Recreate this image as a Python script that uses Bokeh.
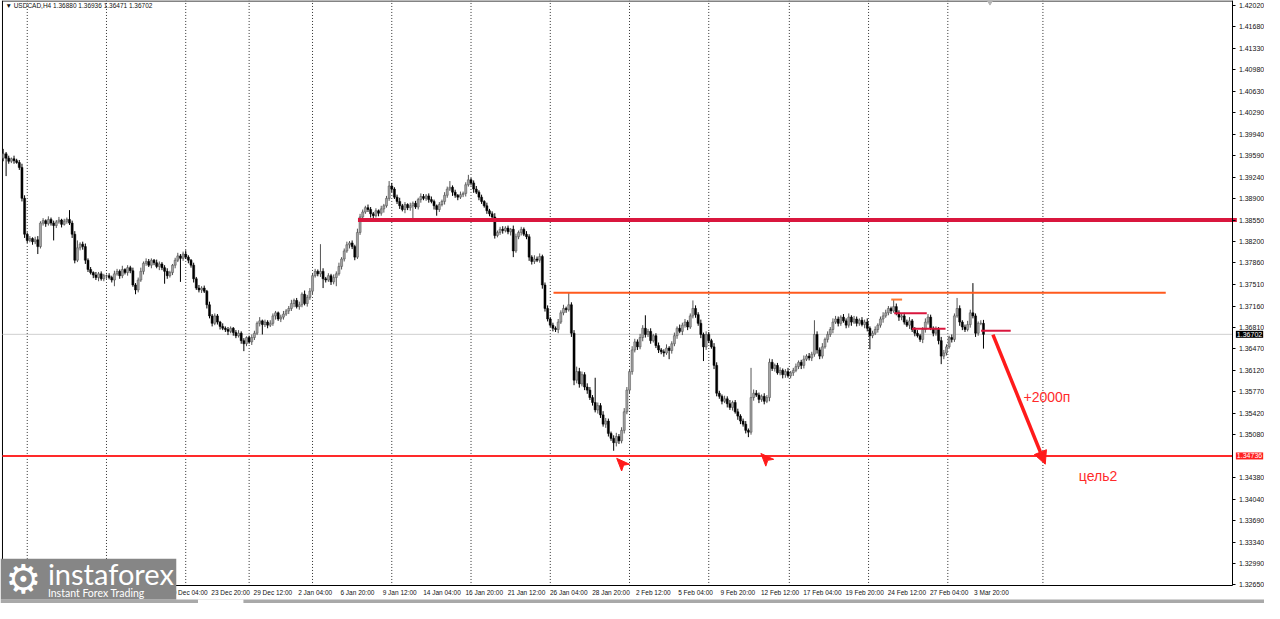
from bokeh.plotting import figure
from bokeh.models import (Range1d, FixedTicker, PrintfTickFormatter, Label,
                          Arrow, NormalHead, ColumnDataSource, BoxAnnotation)
from bokeh.embed import file_html
from bokeh.resources import INLINE

# ---------------- data (USDCAD H4) ----------------
first_open = 1.3955
closes = [
    1.3962, 1.3955, 1.3950, 1.3954, 1.3951, 1.3948, 1.3940, 1.3890, 1.3832, 1.3822,
    1.3825, 1.3820, 1.3823, 1.3812, 1.3850, 1.3854, 1.3849, 1.3856, 1.3850, 1.3846,
    1.3852, 1.3855, 1.3848, 1.3853, 1.3856, 1.3850, 1.3832, 1.3790, 1.3810, 1.3816,
    1.3812, 1.3790, 1.3775, 1.3770, 1.3766, 1.3762, 1.3768, 1.3760, 1.3765, 1.3765,
    1.3762, 1.3758, 1.3768, 1.3772, 1.3765, 1.3775, 1.3770, 1.3778, 1.3773, 1.3750,
    1.3742, 1.3758, 1.3772, 1.3785, 1.3788, 1.3782, 1.3790, 1.3786, 1.3780, 1.3784,
    1.3778, 1.3772, 1.3765, 1.3770, 1.3782, 1.3790, 1.3797, 1.3793, 1.3800, 1.3795,
    1.3790, 1.3782, 1.3760, 1.3745, 1.3742, 1.3745, 1.3740, 1.3718, 1.3700, 1.3688,
    1.3700, 1.3690, 1.3683, 1.3680, 1.3678, 1.3675, 1.3680, 1.3673, 1.3668, 1.3672,
    1.3660, 1.3655, 1.3665, 1.3658, 1.3665, 1.3672, 1.3688, 1.3692, 1.3686, 1.3690,
    1.3685, 1.3688, 1.3700, 1.3705, 1.3695, 1.3698, 1.3703, 1.3708, 1.3712, 1.3720,
    1.3725, 1.3715, 1.3718, 1.3735, 1.3720, 1.3730, 1.3740, 1.3765, 1.3772, 1.3768,
    1.3772, 1.3760, 1.3758, 1.3765, 1.3755, 1.3762, 1.3768, 1.3780, 1.3792, 1.3805,
    1.3815, 1.3818, 1.3812, 1.3795, 1.3835, 1.3860, 1.3868, 1.3875, 1.3872, 1.3865,
    1.3862, 1.3870, 1.3866, 1.3873, 1.3878, 1.3890, 1.3910, 1.3905, 1.3892, 1.3885,
    1.3878, 1.3872, 1.3880, 1.3875, 1.3878, 1.3882, 1.3876, 1.3888, 1.3893, 1.3890,
    1.3894, 1.3888, 1.3885, 1.3878, 1.3872, 1.3880, 1.3885, 1.3895, 1.3905, 1.3908,
    1.3900, 1.3895, 1.3892, 1.3896, 1.3898, 1.3912, 1.3920, 1.3915, 1.3905, 1.3900,
    1.3892, 1.3885, 1.3878, 1.3870, 1.3865, 1.3860, 1.3830, 1.3835, 1.3840, 1.3838,
    1.3842, 1.3836, 1.3840, 1.3805, 1.3828, 1.3835, 1.3840, 1.3832, 1.3828, 1.3795,
    1.3788, 1.3792, 1.3790, 1.3796, 1.3750, 1.3712, 1.3695, 1.3685, 1.3680, 1.3678,
    1.3690, 1.3705, 1.3712, 1.3710, 1.3718, 1.3672, 1.3596, 1.3610, 1.3590, 1.3605,
    1.3585, 1.3580, 1.3568, 1.3560, 1.3548, 1.3555, 1.3540, 1.3525, 1.3530, 1.3510,
    1.3502, 1.3495, 1.3505, 1.3498, 1.3515, 1.3545, 1.3580, 1.3610, 1.3645, 1.3658,
    1.3650, 1.3665, 1.3680, 1.3670, 1.3675, 1.3660, 1.3668, 1.3652, 1.3645, 1.3642,
    1.3640, 1.3648, 1.3644, 1.3655, 1.3668, 1.3680, 1.3675, 1.3685, 1.3690, 1.3682,
    1.3700, 1.3712, 1.3702, 1.3688, 1.3670, 1.3650, 1.3670, 1.3660, 1.3650, 1.3620,
    1.3575, 1.3570, 1.3562, 1.3566, 1.3558, 1.3552, 1.3560, 1.3545, 1.3538, 1.3530,
    1.3525, 1.3515, 1.3512, 1.3568, 1.3575, 1.3572, 1.3565, 1.3570, 1.3562, 1.3568,
    1.3625, 1.3615, 1.3620, 1.3608, 1.3612, 1.3605, 1.3610, 1.3603, 1.3608, 1.3612,
    1.3618, 1.3625, 1.3620, 1.3630, 1.3635, 1.3632, 1.3638, 1.3670, 1.3645, 1.3635,
    1.3650, 1.3662, 1.3670, 1.3678, 1.3690, 1.3695, 1.3688, 1.3698, 1.3692, 1.3685,
    1.3698, 1.3690, 1.3695, 1.3688, 1.3693, 1.3686, 1.3690, 1.3680, 1.3668, 1.3672,
    1.3678, 1.3685, 1.3695, 1.3700, 1.3705, 1.3712, 1.3708, 1.3715, 1.3705, 1.3698,
    1.3700, 1.3690, 1.3685, 1.3692, 1.3678, 1.3672, 1.3668, 1.3662, 1.3678, 1.3690,
    1.3698, 1.3680, 1.3672, 1.3678, 1.3660, 1.3635, 1.3640, 1.3650, 1.3665, 1.3662,
    1.3700, 1.3712, 1.3690, 1.3682, 1.3678, 1.3686, 1.3705, 1.3700, 1.3672, 1.3688,
    1.3688, 1.36702,
]
# upper / lower shadow lengths in pips beyond the body
wick_up = [
    8, 3, 4, 2, 5, 3, 4, 6, 5, 3, 4, 2, 5, 6, 3, 4, 2, 5, 3, 4,
    3, 5, 2, 4, 3, 15, 4, 5, 12, 3, 4, 5, 3, 4, 2, 5, 3, 4, 3, 2,
    4, 3, 5, 4, 3, 6, 2, 4, 3, 5, 3, 4, 6, 3, 5, 4, 3, 2, 5, 4,
    3, 4, 5, 3, 2, 4, 5, 3, 4, 6, 3, 2, 4, 3, 5, 3, 4, 2, 5, 3,
    4, 3, 2, 5, 3, 4, 3, 2, 4, 5, 3, 4, 2, 3, 5, 4, 3, 6, 2, 4,
    3, 5, 4, 3, 2, 4, 5, 3, 4, 6, 3, 4, 5, 3, 6, 4, 5, 3, 4, 3,
    44, 5, 3, 4, 3, 5, 4, 6, 3, 4, 5, 3, 4, 3, 6, 5, 4, 3, 5, 4,
    3, 4, 2, 5, 3, 4, 8, 5, 3, 4, 6, 3, 4, 2, 5, 3, 4, 3, 5, 4,
    3, 4, 5, 3, 2, 4, 3, 5, 4, 10, 3, 4, 2, 5, 3, 4, 8, 3, 4, 5,
    3, 4, 2, 5, 3, 4, 6, 3, 4, 5, 3, 4, 2, 6, 5, 3, 4, 3, 5, 4,
    3, 6, 4, 5, 3, 4, 5, 3, 4, 3, 5, 4, 6, 3, 20, 4, 5, 8, 6, 5,
    4, 6, 5, 4, 40, 5, 4, 6, 5, 4, 3, 5, 6, 4, 5, 6, 5, 4, 6, 5,
    4, 6, 5, 21, 4, 5, 3, 4, 5, 3, 4, 6, 3, 4, 5, 3, 6, 4, 5, 3,
    4, 13, 5, 4, 6, 3, 5, 4, 3, 6, 5, 4, 3, 5, 4, 6, 3, 4, 5, 3,
    4, 5, 3, 48, 6, 5, 4, 3, 5, 4, 6, 5, 3, 4, 5, 3, 4, 6, 3, 4,
    5, 3, 4, 6, 3, 5, 4, 23, 5, 4, 6, 3, 5, 4, 6, 5, 4, 3, 5, 4,
    6, 3, 5, 4, 3, 5, 4, 6, 3, 4, 5, 3, 4, 6, 5, 4, 3, 11, 5, 4,
    3, 5, 4, 6, 3, 4, 5, 3, 4, 6, 5, 4, 3, 5, 4, 6, 5, 4, 3, 5,
    4, 17, 5, 3, 4, 6, 5, 48, 4, 3, 5, 5.6,
]
wick_dn = [
    5, 29, 4, 3, 5, 2, 4, 5, 6, 4, 3, 5, 4, 12, 3, 4, 5, 3, 4, 24,
    4, 3, 5, 2, 4, 3, 6, 5, 3, 4, 5, 6, 4, 3, 5, 4, 6, 3, 4, 5,
    3, 4, 10, 3, 5, 4, 3, 5, 4, 3, 7, 4, 3, 5, 4, 3, 5, 4, 3, 6,
    4, 20, 5, 3, 4, 5, 3, 38, 4, 3, 5, 4, 6, 3, 4, 5, 3, 6, 4, 5,
    3, 4, 5, 3, 4, 6, 3, 5, 4, 3, 5, 12, 4, 3, 5, 4, 3, 5, 16, 4,
    5, 3, 4, 6, 3, 5, 4, 3, 5, 4, 6, 3, 5, 4, 3, 5, 4, 6, 3, 4,
    5, 15, 4, 3, 5, 4, 14, 3, 5, 4, 3, 6, 4, 5, 3, 4, 5, 3, 4, 6,
    4, 3, 5, 4, 6, 3, 4, 5, 3, 4, 5, 3, 6, 4, 5, 21, 3, 4, 5, 3,
    4, 5, 3, 6, 10, 4, 3, 5, 4, 3, 6, 4, 5, 3, 4, 5, 3, 4, 6, 3,
    5, 4, 3, 5, 4, 6, 5, 3, 4, 5, 3, 4, 6, 10, 3, 4, 5, 3, 4, 6,
    5, 4, 3, 4, 6, 5, 4, 3, 5, 4, 6, 3, 4, 5, 3, 6, 8, 5, 6, 4,
    5, 6, 4, 5, 4, 6, 5, 4, 6, 5, 4, 13, 6, 5, 4, 5, 4, 6, 5, 4,
    5, 4, 6, 5, 4, 5, 3, 4, 5, 4, 6, 3, 14, 5, 4, 5, 3, 6, 4, 5,
    3, 4, 5, 4, 6, 23, 5, 4, 3, 6, 5, 4, 5, 3, 6, 4, 5, 3, 6, 5,
    4, 5, 8, 4, 5, 3, 6, 4, 5, 3, 6, 4, 5, 3, 4, 6, 5, 3, 4, 5,
    3, 4, 6, 5, 3, 4, 5, 4, 6, 5, 4, 3, 5, 4, 6, 3, 5, 4, 3, 5,
    4, 6, 3, 5, 4, 3, 6, 5, 22, 4, 3, 5, 4, 6, 3, 4, 5, 3, 4, 6,
    5, 4, 3, 6, 4, 5, 3, 4, 6, 5, 4, 3, 5, 4, 6, 13, 5, 4, 3, 5,
    4, 3, 6, 5, 4, 3, 5, 4, 6, 4, 3, 23.1,
]

price_ticks = [1.42020, 1.41680, 1.41330, 1.40980, 1.40630, 1.40290, 1.39940,
               1.39590, 1.39240, 1.38900, 1.38550, 1.38200, 1.37860, 1.37510,
               1.37160, 1.36810, 1.36470, 1.36120, 1.35770, 1.35420, 1.35080,
               1.34380, 1.34040, 1.33690, 1.33340, 1.32990, 1.32650]
date_bars = [0, 14, 30, 46, 62, 78, 94, 110, 126, 142, 158, 174, 190, 206,
             222, 238, 254, 270, 286, 302, 318, 334, 350, 366]
date_labels = ["4 Dec 2025", "9 Dec 04:00", "11 Dec 20:00", "16 Dec 12:00",
               "19 Dec 04:00", "23 Dec 20:00", "29 Dec 12:00", "2 Jan 04:00",
               "6 Jan 20:00", "9 Jan 12:00", "14 Jan 04:00", "16 Jan 20:00",
               "21 Jan 12:00", "26 Jan 04:00", "28 Jan 20:00", "2 Feb 12:00",
               "5 Feb 04:00", "9 Feb 20:00", "12 Feb 12:00", "17 Feb 04:00",
               "19 Feb 20:00", "24 Feb 12:00", "27 Feb 04:00", "3 Mar 20:00"]
week_grid_bars = [9, 39, 69, 93, 117, 147, 177, 207, 237, 267, 297.5, 327.5, 357.5, 393.5]

resistance_level = 1.38550
range_top_level = 1.37374
target_level = 1.34736
header_text = "\u25bc USDCAD,H4  1.36880 1.36936 1.36471 1.36702"

# ---------------- geometry helpers (reference-pixel calibration) ----------------
def rx(px):          # reference pixel x -> bar coordinate
    return (px - 3) / 2.675

def ry(py):          # reference pixel y -> price
    return 1.42020 - (py - 5) / 6350.0

PIP = 0.0001
AX_X = rx(1248)      # price axis position
AX_Y = ry(601)       # time axis position

n = min(len(closes), len(wick_up), len(wick_dn))
closes = closes[:n]
opens = [first_open] + closes[:-1]
idx = list(range(n))
tops = [max(o, c) for o, c in zip(opens, closes)]
bots = [min(o, c) for o, c in zip(opens, closes)]
highs = [t + u * PIP for t, u in zip(tops, wick_up[:n])]
lows = [b - d * PIP for b, d in zip(bots, wick_dn[:n])]
bull = [c >= o for o, c in zip(opens, closes)]

src = ColumnDataSource(dict(
    x=idx, top=tops, bottom=bots, high=highs, low=lows,
    fill=["#a3a3a3" if b else "#000000" for b in bull],
    line=["#4a4a4a" if b else "#000000" for b in bull],
    wick=["#555555" if b else "#000000" for b in bull],
))

p = figure(width=1264, height=603, x_range=Range1d(rx(0), rx(1280)),
           y_range=Range1d(ry(619), ry(0)),
           output_backend="svg", toolbar_location=None, y_axis_location="right",
           min_border_left=0, min_border_right=0, min_border_top=0, min_border_bottom=0,
           background_fill_color="white", border_fill_color="white")
p.grid.visible = False
p.outline_line_color = None

# axes drawn at fixed positions inside the canvas
p.yaxis.fixed_location = AX_X
p.yaxis.bounds = (ry(601), ry(0))
p.yaxis.ticker = FixedTicker(ticks=price_ticks)
p.yaxis.formatter = PrintfTickFormatter(format="%.5f")
p.yaxis.major_label_text_font_size = "7px"
p.yaxis.major_label_text_font = "Liberation Sans"
p.yaxis.major_label_text_color = "#111111"
p.yaxis.major_tick_out = 3
p.yaxis.major_tick_in = 0
p.yaxis.minor_tick_out = 0
p.yaxis.minor_tick_in = 0
p.yaxis.major_label_standoff = 3
p.yaxis.axis_line_color = "black"

LABEL_SHIFT = 8
xt = [b + LABEL_SHIFT for b in date_bars]
p.xaxis.fixed_location = AX_Y
p.xaxis.bounds = (rx(2), AX_X)
p.xaxis.ticker = FixedTicker(ticks=xt)
p.xaxis.major_label_overrides = {t: lab for t, lab in zip(xt, date_labels)}
p.xaxis.major_label_text_font_size = "6.5px"
p.xaxis.major_label_text_font = "Liberation Sans"
p.xaxis.major_label_text_color = "#111111"
p.xaxis.major_tick_out = 0
p.xaxis.major_tick_in = 0
p.xaxis.minor_tick_out = 0
p.xaxis.minor_tick_in = 0
p.xaxis.major_label_standoff = 3
p.xaxis.axis_line_color = "black"

# chart frame (left and top edges)
p.segment(x0=[rx(2), rx(2)], y0=[ry(601), ry(0.5)], x1=[rx(2), AX_X], y1=[ry(0), ry(0.5)],
          line_color="black", line_width=1)

# weekly separators
p.segment(x0=week_grid_bars, y0=[ry(601)] * len(week_grid_bars),
          x1=week_grid_bars, y1=[ry(0)] * len(week_grid_bars),
          line_color="#333333", line_dash="1 2", line_width=1)

# current price line
p.segment(x0=[rx(2)], y0=[closes[-1]], x1=[AX_X], y1=[closes[-1]],
          line_color="#cfcfcf", line_width=1)

# candles
p.segment(x0="x", y0="low", x1="x", y1="high", line_color="wick", line_width=1, source=src)
p.vbar(x="x", width=0.78, top="top", bottom="bottom", fill_color="fill",
       line_color="line", line_width=0.5, source=src)

# levels
p.segment(x0=[rx(362)], y0=[resistance_level], x1=[rx(1252)], y1=[resistance_level],
          line_color="#d9163d", line_width=4)
p.segment(x0=[rx(560)], y0=[range_top_level], x1=[rx(1180)], y1=[range_top_level],
          line_color="#ff5a1e", line_width=2)
p.segment(x0=[rx(2)], y0=[target_level], x1=[AX_X], y1=[target_level],
          line_color="#ff2a2a", line_width=2)

# short marks near the last swing
p.segment(x0=[rx(905), rx(923), rx(993)], y0=[ry(321), ry(337), ry(339)],
          x1=[rx(938), rx(957), rx(1023)], y1=[ry(321), ry(337), ry(339)],
          line_color="#d9163d", line_width=2)
p.segment(x0=[rx(902)], y0=[ry(307)], x1=[rx(913)], y1=[ry(307)],
          line_color="#ff7a30", line_width=2)

# small red pointer arrows
shape = [(0, 0), (13, 6), (7, 7), (5, 13)]
for (ax, ay) in [(624, 470), (770, 465)]:
    p.patch(x=[rx(ax + dx) for dx, dy in shape], y=[ry(ay + dy) for dx, dy in shape],
            fill_color="#ff1a1a", line_color="#ff1a1a")

# top shift marker
p.scatter(x=[rx(1002)], y=[ry(0)], marker="inverted_triangle", size=8,
          fill_color="#b5b5b5", line_color="#b5b5b5")

# forecast arrow + texts
p.add_layout(Arrow(end=NormalHead(size=13, fill_color="#ff1a1a", line_color="#ff1a1a"),
                   x_start=rx(1005), y_start=ry(343), x_end=rx(1058), y_end=ry(476),
                   line_color="#ff1a1a", line_width=3.5))
p.add_layout(Label(x=rx(1036), y=ry(407), text="+2000\u043f", text_color="#ff2a2a",
                   text_font_size="14px", text_font="Liberation Sans", text_baseline="middle"))
p.add_layout(Label(x=rx(1092), y=ry(488), text="\u0446\u0435\u043b\u044c2", text_color="#ff2a2a",
                   text_font_size="14px", text_font="Liberation Sans", text_baseline="middle"))

# header
p.add_layout(Label(x=rx(5), y=ry(5.5), text=header_text, text_color="#111111",
                   text_font_size="6.5px", text_font="Liberation Sans", text_baseline="middle"))

# axis price boxes
p.add_layout(Label(x=rx(1251), y=closes[-1], text="%.5f" % closes[-1], text_color="white",
                   text_font_size="7px", text_font="Liberation Sans", text_baseline="middle",
                   background_fill_color="black", background_fill_alpha=1.0, padding=1))
p.add_layout(Label(x=rx(1251), y=target_level, text="%.5f" % target_level, text_color="white",
                   text_font_size="7px", text_font="Liberation Sans", text_baseline="middle",
                   background_fill_color="#ff2020", background_fill_alpha=1.0, padding=1))

# window scroll strip at the bottom
p.add_layout(BoxAnnotation(left=rx(0), right=rx(1280), bottom=ry(619), top=ry(615),
                           fill_color="#a9a9a9", fill_alpha=1.0, line_alpha=0))
p.add_layout(BoxAnnotation(left=rx(200), right=rx(246), bottom=ry(619), top=ry(615),
                           fill_color="#ffffff", fill_alpha=1.0, line_alpha=0))

# watermark logo
p.add_layout(BoxAnnotation(left=rx(0), right=rx(178), bottom=ry(615), top=ry(573),
                           fill_color="#868686", fill_alpha=1.0, line_alpha=0))
p.add_layout(Label(x=rx(5), y=ry(594), text="\u2699", text_color="white",
                   text_font_size="40px", text_font="DejaVu Sans", text_baseline="middle"))
p.add_layout(Label(x=rx(48), y=ry(588), text="instaforex", text_color="white",
                   text_font_size="29px", text_font="Lato", text_baseline="middle"))
p.add_layout(Label(x=rx(48), y=ry(608), text="Instant Forex Trading", text_color="white",
                   text_font_size="10.5px", text_font="Lato", text_baseline="middle"))

open("out.html", "w").write(file_html(p, INLINE))
